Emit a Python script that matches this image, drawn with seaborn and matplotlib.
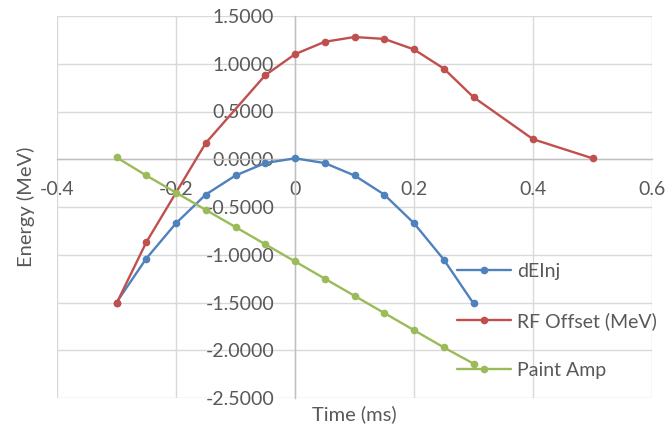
import numpy as np
import pandas as pd
import seaborn as sns
import matplotlib
matplotlib.use("Agg")
import matplotlib.pyplot as plt
from matplotlib.lines import Line2D
from matplotlib.ticker import FuncFormatter

# ---- data ----
time_dEInj = [-0.30, -0.25, -0.20, -0.15, -0.10, -0.05, 0.00, 0.05, 0.10, 0.15, 0.20, 0.25, 0.30]
dEInj = [-1.50, -1.04, -0.67, -0.37, -0.17, -0.04, 0.01, -0.04, -0.17, -0.37, -0.67, -1.05, -1.51]

time_rf = [-0.30, -0.25, -0.15, -0.05, 0.00, 0.05, 0.10, 0.15, 0.20, 0.25, 0.30, 0.40, 0.50]
rf_offset = [-1.51, -0.87, 0.17, 0.88, 1.10, 1.23, 1.28, 1.26, 1.15, 0.95, 0.65, 0.21, 0.01]

time_paint = [-0.30, -0.25, -0.20, -0.15, -0.10, -0.05, 0.00, 0.05, 0.10, 0.15, 0.20, 0.25, 0.30]
paint_amp = [0.02, -0.17, -0.35, -0.53, -0.71, -0.89, -1.07, -1.25, -1.43, -1.61, -1.79, -1.97, -2.14]

series_names = ["dEInj", "RF Offset (MeV)", "Paint Amp"]
colors = ["#4F81BD", "#C0504D", "#9BBB59"]
x_ticks = [-0.4, -0.2, 0.0, 0.2, 0.4, 0.6]
y_ticks = [-2.5, -2.0, -1.5, -1.0, -0.5, 0.0, 0.5, 1.0, 1.5]

df = pd.concat([
    pd.DataFrame({"Time": time_dEInj, "Energy": dEInj, "Series": series_names[0]}),
    pd.DataFrame({"Time": time_rf, "Energy": rf_offset, "Series": series_names[1]}),
    pd.DataFrame({"Time": time_paint, "Energy": paint_amp, "Series": series_names[2]}),
], ignore_index=True)

sns.set_theme(style="white")
plt.rcParams["font.family"] = ["Lato", "DejaVu Sans"]
txt_color = "#595959"

W, H = 667, 429
fig = plt.figure(figsize=(W / 100, H / 100), dpi=100)
L, R, T, B = 57, 652, 16, 398
ax = fig.add_axes([L / W, 1 - B / H, (R - L) / W, (B - T) / H])

sns.lineplot(data=df, x="Time", y="Energy", hue="Series", hue_order=series_names,
             palette=colors, marker="o", markersize=5.5, markeredgewidth=0,
             linewidth=1.7, estimator=None, sort=False, legend=False, ax=ax, zorder=3)

ax.set_xlim(-0.4, 0.6)
ax.set_ylim(-2.5, 1.5)
ax.set_xticks(x_ticks)
ax.set_yticks(y_ticks)
ax.xaxis.set_major_formatter(FuncFormatter(lambda v, p: f"{round(v, 4):g}"))
ax.yaxis.set_major_formatter(FuncFormatter(lambda v, p: f"{v:.4f}"))

ax.grid(True, color="#D9D9D9", linewidth=1.0)
ax.set_axisbelow(True)
for s in ["top", "right"]:
    ax.spines[s].set_visible(False)
ax.spines["left"].set_position(("data", 0))
ax.spines["bottom"].set_position(("data", 0))
for s in ["left", "bottom"]:
    ax.spines[s].set_color("#BFBFBF")
    ax.spines[s].set_linewidth(1.0)

ax.tick_params(axis="y", length=0, pad=15, labelsize=14, labelcolor=txt_color)
ax.tick_params(axis="x", length=0, pad=16, labelsize=14, labelcolor=txt_color)

ax.set_xlabel("Time (ms)", fontsize=14.5, color=txt_color)
ax.set_ylabel("Energy (MeV)", fontsize=14.5, color=txt_color)
ax.xaxis.set_label_coords(0.5, -0.018)
ax.yaxis.set_label_coords(-0.037, 0.5)

handles = [Line2D([0], [0], color=c, linewidth=1.7, marker="o", markersize=5.5,
                  markeredgewidth=0) for c in colors]
leg = ax.legend(handles, series_names, loc="center left",
                bbox_to_anchor=(457 / W, 1 - 321 / H), bbox_transform=fig.transFigure,
                frameon=False, fontsize=14, handlelength=2.8, handletextpad=0.3,
                labelspacing=1.65, borderpad=0, borderaxespad=0)
for t in leg.get_texts():
    t.set_color(txt_color)

fig.savefig("out.png", dpi=100)
